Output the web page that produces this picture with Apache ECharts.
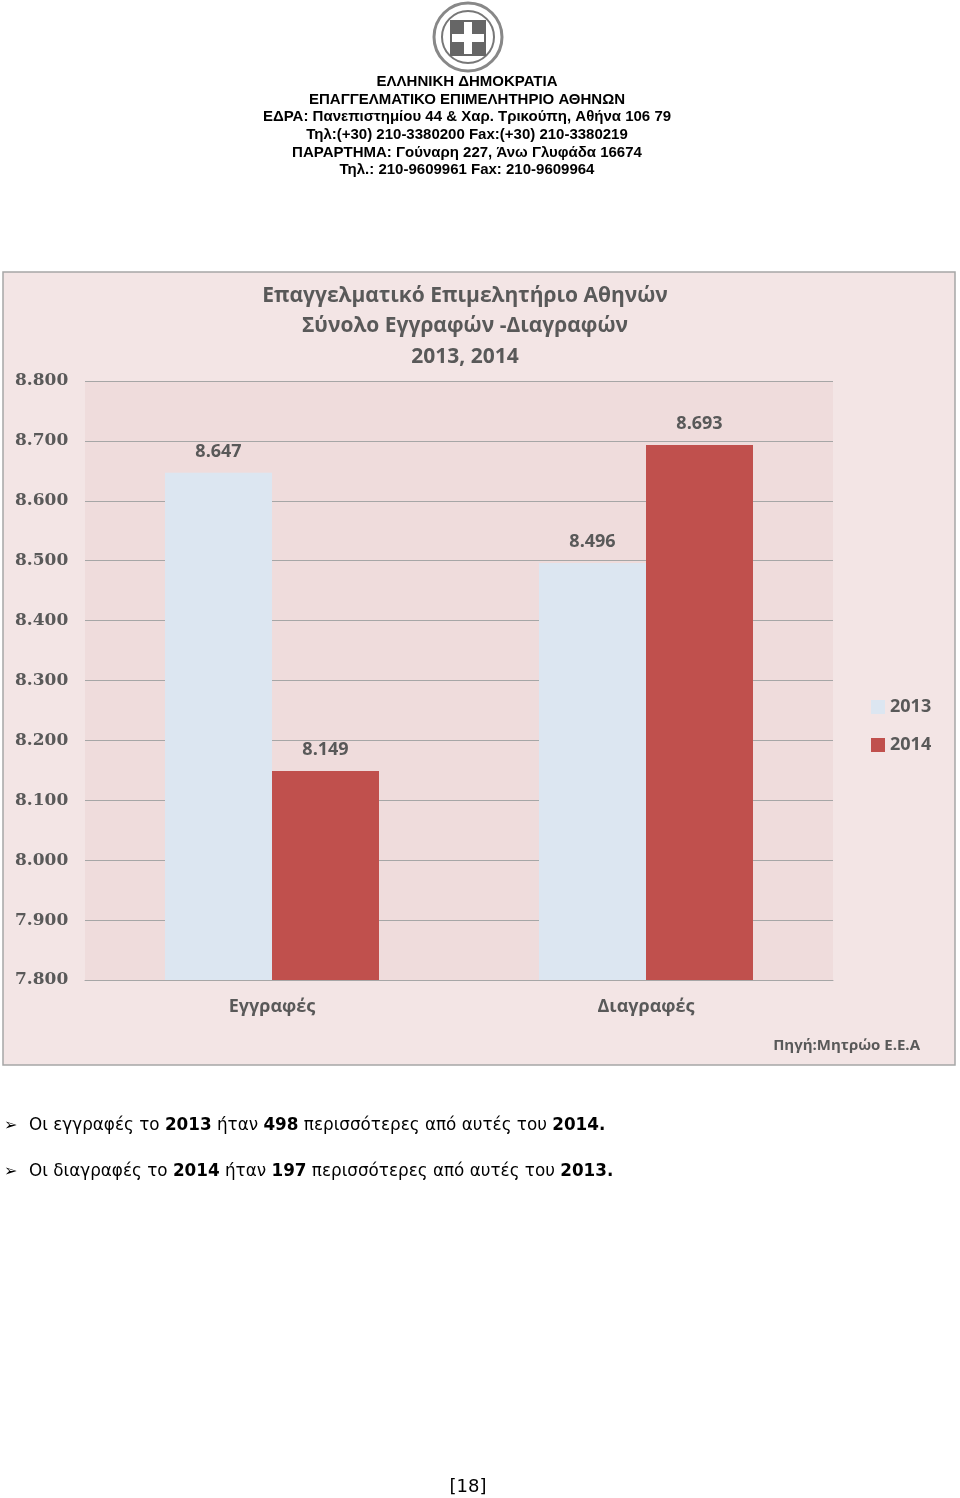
<!DOCTYPE html>
<html><head><meta charset="utf-8">
<script src="https://cdn.jsdelivr.net/npm/echarts@6/dist/echarts.min.js"></script>
<style>html,body{margin:0;padding:0;background:#fff}#c{width:960px;height:1498px}</style>
</head><body><div id="c"></div>
<script>
const categories = ['Εγγραφές', 'Διαγραφές'];
const values2013 = [8647, 8496];
const values2014 = [8149, 8693];
const seriesNames = ['2013', '2014'];
const headerLines = ['ΕΛΛΗΝΙΚΗ ΔΗΜΟΚΡΑΤΙΑ','ΕΠΑΓΓΕΛΜΑΤΙΚΟ ΕΠΙΜΕΛΗΤΗΡΙΟ ΑΘΗΝΩΝ','ΕΔΡΑ: Πανεπιστημίου 44 & Χαρ. Τρικούπη, Αθήνα 106 79','Τηλ:(+30) 210-3380200 Fax:(+30) 210-3380219','ΠΑΡΑΡΤΗΜΑ: Γούναρη 227, Άνω Γλυφάδα 16674','Τηλ.: 210-9609961 Fax: 210-9609964'];
const titleLines = ['Επαγγελματικό Επιμελητήριο Αθηνών','Σύνολο Εγγραφών -Διαγραφών','2013, 2014'];

const fmt = v => { const s = String(Math.round(v)); return s.length > 3 ? s.slice(0, s.length-3) + '.' + s.slice(-3) : s; };
const chart = echarts.init(document.getElementById('c'));
const g = [];
g.push({type:'circle', shape:{cx:468, cy:37, r:34}, style:{fill:'#fff', stroke:'#888', lineWidth:3}});
g.push({type:'circle', shape:{cx:468, cy:37, r:26}, style:{fill:'#fff', stroke:'#777', lineWidth:2}});
g.push({type:'rect', shape:{x:450, y:20, width:36, height:36}, style:{fill:'#666'}});
g.push({type:'rect', shape:{x:464, y:22, width:8, height:32}, style:{fill:'#fff'}});
g.push({type:'rect', shape:{x:452, y:34, width:32, height:8}, style:{fill:'#fff'}});
headerLines.forEach((t,i)=>g.push({type:'text', x:467, y:82+i*17.6, style:{text:t, font:'bold 15px Arial, "Liberation Sans"', fill:'#000', align:'center', verticalAlign:'middle'}}));
g.push({type:'rect', z:-10, shape:{x:3, y:272, width:952, height:793}, style:{fill:'#f3e5e5', stroke:'#a6a6a6', lineWidth:1.5}});
g.push({type:'rect', z:-9, shape:{x:85, y:381, width:748, height:599}, style:{fill:'#efdcdc'}});
titleLines.forEach((t,i)=>g.push({type:'text', x:465, y:296+i*30.5, style:{text:t, font:'bold 21px "Open Sans", "DejaVu Sans"', fill:'#595959', align:'center', verticalAlign:'middle'}}));
g.push({type:'text', x:920, y:1046, style:{text:'Πηγή:Μητρώο Ε.Ε.Α', font:'bold 15px "Open Sans", "DejaVu Sans"', fill:'#595959', align:'right', verticalAlign:'middle'}});
const bl = [[['Οι εγγραφές το ',0],['2013',1],[' ήταν ',0],['498',1],[' περισσότερες από αυτές του ',0],['2014.',1]],
            [['Οι διαγραφές το ',0],['2014',1],[' ήταν ',0],['197',1],[' περισσότερες από αυτές του ',0],['2013.',1]]];
bl.forEach((parts,i)=>{
  const y = 1126 + i*46;
  g.push({type:'text', x:4, y:y, style:{text:'➢', font:'16px "DejaVu Sans"', fill:'#000', verticalAlign:'middle'}});
  g.push({type:'text', x:29, y:y, style:{text:parts.map(p=>p[1]?'{b|'+p[0]+'}':'{n|'+p[0]+'}').join(''), verticalAlign:'middle',
    rich:{n:{font:'16.8px "DejaVu Sans"', fill:'#000'}, b:{font:'bold 16.8px "DejaVu Sans"', fill:'#000'}}}});
});
g.push({type:'text', x:468, y:1487, style:{text:'[18]', font:'18px "DejaVu Sans"', fill:'#000', align:'center', verticalAlign:'middle'}});

const lab = {show:true, position:'top', distance:12, formatter:p=>fmt(p.value), color:'#595959', fontWeight:'bold', fontSize:18, fontFamily:'"Open Sans", "DejaVu Sans"'};
chart.setOption({
  animation:false,
  graphic:g,
  grid:{left:85, top:381, width:748, height:599},
  legend:{orient:'vertical', left:866, top:693, itemGap:20, itemWidth:14, itemHeight:14, icon:'rect',
    textStyle:{color:'#595959', fontWeight:'bold', fontSize:18, fontFamily:'"Open Sans", "DejaVu Sans"'}},
  xAxis:{type:'category', data:categories, axisLine:{lineStyle:{color:'#a6a6a6'}}, axisTick:{show:false},
    axisLabel:{margin:18, color:'#595959', fontWeight:'bold', fontSize:18, fontFamily:'"Open Sans", "DejaVu Sans"'}},
  yAxis:{type:'value', min:7800, max:8800, interval:100, axisLine:{show:false}, axisTick:{show:false},
    splitLine:{lineStyle:{color:'#a6a6a6', width:1.2}},
    axisLabel:{align:'left', margin:70, formatter:fmt, color:'#595959', fontWeight:'bold', fontSize:17, fontFamily:'"DejaVu Serif", serif'}},
  series:[
    {name:seriesNames[0], type:'bar', data:values2013, barWidth:107, barGap:'0%', itemStyle:{color:'#dce6f1'}, label:lab},
    {name:seriesNames[1], type:'bar', data:values2014, barWidth:107, barGap:'0%', itemStyle:{color:'#c0504d'}, label:lab}
  ]
});
</script></body></html>
